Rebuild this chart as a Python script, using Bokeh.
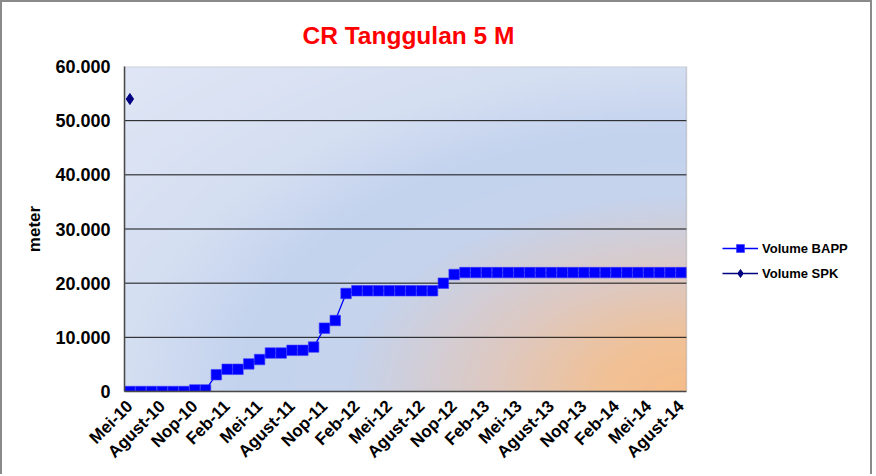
import numpy as np
from math import pi
from bokeh.plotting import figure
from bokeh.models import Range1d, FixedTicker, Legend, LegendItem, BoxAnnotation
from bokeh.embed import file_html
from bokeh.resources import INLINE

# ---- data ----
month_tick_labels = ["Mei-10", "Agust-10", "Nop-10", "Feb-11", "Mei-11", "Agust-11",
                     "Nop-11", "Feb-12", "Mei-12", "Agust-12", "Nop-12", "Feb-13",
                     "Mei-13", "Agust-13", "Nop-13", "Feb-14", "Mei-14", "Agust-14"]
volume_bapp = [0, 0, 0, 0, 0, 0, 300, 300, 3100, 4100,
               4100, 5100, 5900, 7100, 7100, 7600, 7600, 8200, 11700, 13100,
               18100, 18600, 18600, 18600, 18600, 18600, 18600, 18600, 18600, 20000,
               21600, 21950, 21950, 21950, 21950, 21950, 21950, 21950, 21950, 21950,
               21950, 21950, 21950, 21950, 21950, 21950, 21950, 21950, 21950, 21950,
               21950, 21950]
volume_spk_idx = [0]
volume_spk = [54000]
y_ticks = [0, 10000, 20000, 30000, 40000, 50000, 60000]
y_tick_labels = ["0", "10.000", "20.000", "30.000", "40.000", "50.000", "60.000"]

months_idx = list(range(len(volume_bapp)))
month_tick_pos = months_idx[::3]

FONT = "Liberation Sans"

# plot area (data part) is 562 px wide; the frame continues to the right to hold the legend
n = len(volume_bapp)
x_lo, x_hi = -0.5, n - 0.5
FRAME_W, DATA_W = 750, 562
x_end = x_lo + n * FRAME_W / DATA_W
y_lo, y_hi = y_ticks[0], y_ticks[-1]

p = figure(width=872, height=474, output_backend="svg", toolbar_location=None,
           x_range=Range1d(x_lo, x_end), y_range=Range1d(y_lo, y_hi),
           min_border_left=122, min_border_right=0, min_border_top=64, min_border_bottom=85)
p.styles = {"border-top": "2px solid #8a8a8a", "border-left": "2px solid #8a8a8a",
            "border-right": "2px solid #8a8a8a"}

# ---- background gradient (decoration of the plot area) ----
ny, nx = 120, 240
xf = (np.arange(nx) + 0.5) / nx
yf = (np.arange(ny) + 0.5) / ny
XX, YY = np.meshgrid(xf, yf)
r = np.sqrt((1 - XX) ** 2 + YY ** 2)
stops = [0.0, 0.15, 0.35, 0.6, 0.8, 1.0, 1.42]
cols = np.array([[246, 189, 138], [241, 193, 150], [222, 201, 194], [198, 211, 236],
                 [196, 211, 238], [213, 223, 242], [224, 230, 245]], dtype=float)
rgb = np.stack([np.interp(r, stops, cols[:, k]) for k in range(3)], axis=-1).astype(np.uint8)
img = np.empty((ny, nx), dtype=np.uint32)
view = img.view(dtype=np.uint8).reshape((ny, nx, 4))
view[:, :, 0] = rgb[:, :, 0]
view[:, :, 1] = rgb[:, :, 1]
view[:, :, 2] = rgb[:, :, 2]
view[:, :, 3] = 255
p.image_rgba(image=[img], x=x_lo, y=y_lo, dw=x_hi - x_lo, dh=y_hi - y_lo)

# ---- horizontal gridlines limited to the data area ----
grid_y = y_ticks[1:-1]
p.segment(x0=[x_lo] * len(grid_y), x1=[x_hi] * len(grid_y), y0=grid_y, y1=grid_y,
          line_color="#111111", line_width=1)

# ---- series ----
l1 = p.line(months_idx, volume_bapp, line_color="#0000ff", line_width=1.3)
s1 = p.scatter(months_idx, volume_bapp, marker="square", size=10.5,
               fill_color="#0000ff", line_color="#3a3aff", line_width=0.6)
l2 = p.line(volume_spk_idx, volume_spk, line_color="#000080", line_width=1.3)
s2 = p.scatter(volume_spk_idx, volume_spk, marker="diamond", size=11,
               fill_color="#000080", line_color="#000080")

# plot-area border
p.add_layout(BoxAnnotation(left=x_lo, right=x_hi, bottom=y_lo, top=y_hi,
                           fill_alpha=0, line_color="#7f7f7f", line_width=1.5))

# ---- title ----
p.title.text = "CR Tanggulan 5 M"
p.title.align = "left"
p.title.offset = 178
p.title.text_color = "#ff0000"
p.title.text_font = FONT
p.title.text_font_style = "bold"
p.title.text_font_size = "24.5px"
p.title.standoff = 35

# ---- axes ----
p.yaxis.ticker = FixedTicker(ticks=y_ticks)
p.yaxis.major_label_overrides = dict(zip(y_ticks, y_tick_labels))
p.yaxis.axis_label = "meter"
p.yaxis.axis_label_text_font = FONT
p.yaxis.axis_label_text_font_style = "bold"
p.yaxis.axis_label_text_font_size = "17px"
p.yaxis.axis_label_text_color = "#000000"
p.yaxis.axis_label_standoff = 8
p.yaxis.major_label_text_font = FONT
p.yaxis.major_label_text_font_style = "bold"
p.yaxis.major_label_text_font_size = "18px"
p.yaxis.major_label_standoff = 14

p.xaxis.ticker = FixedTicker(ticks=month_tick_pos)
p.xaxis.major_label_overrides = dict(zip(month_tick_pos, month_tick_labels))
p.xaxis.major_label_orientation = pi / 4
p.xaxis.major_label_text_font = FONT
p.xaxis.major_label_text_font_style = "bold"
p.xaxis.major_label_text_font_size = "17px"
p.xaxis.major_label_standoff = 12
p.xaxis.bounds = (x_lo, x_hi)

for ax in (p.xaxis, p.yaxis):
    ax.major_tick_line_color = None
    ax.minor_tick_line_color = None
    ax.major_tick_out = 0
    ax.major_tick_in = 0
    ax.minor_tick_out = 0
    ax.axis_line_color = "#404040"
    ax.axis_line_width = 1.5
    ax.major_label_text_color = "#000000"

p.xgrid.grid_line_color = None
p.ygrid.grid_line_color = None
p.outline_line_color = None
p.background_fill_color = "white"
p.border_fill_color = "white"

# ---- legend ----
legend = Legend(items=[LegendItem(label="Volume BAPP", renderers=[l1, s1]),
                       LegendItem(label="Volume SPK", renderers=[l2, s2])],
                location=(598, 108), orientation="vertical",
                glyph_width=36, glyph_height=20, spacing=5, padding=0, margin=0,
                label_standoff=4, label_text_font=FONT, label_text_font_style="bold",
                label_text_font_size="13px", label_text_color="#000000",
                border_line_color=None, background_fill_alpha=0)
p.add_layout(legend, "center")

open("out.html", "w").write(file_html(p, INLINE))
